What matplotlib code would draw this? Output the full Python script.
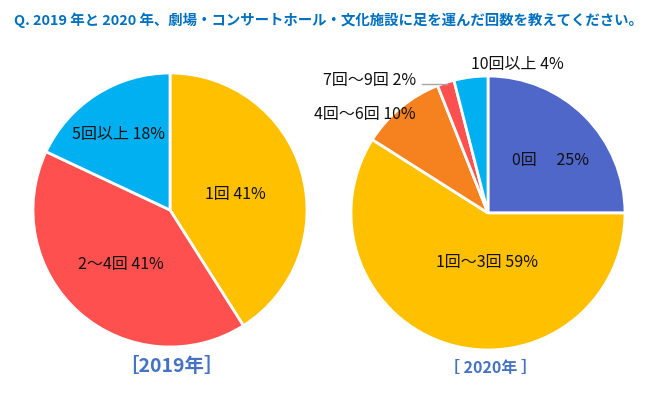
import matplotlib
matplotlib.use("Agg")
import matplotlib.pyplot as plt

plt.rcParams['font.family'] = ['Noto Sans CJK JP', 'DejaVu Sans']

# ── Data ──────────────────────────────────────────────────────────────────────
TITLE = "Q. 2019 年と 2020 年、劇場・コンサートホール・文化施設に足を運んだ回数を教えてください。"

labels_2019 = ["1回", "2～4回", "5回以上"]
values_2019 = [41, 41, 18]
colors_2019 = ["#FFC000", "#FF5050", "#00B0F0"]

labels_2020 = ["0回\u3000", "1回～3回", "4回～6回", "7回～9回", "10回以上"]
values_2020 = [25, 59, 10, 2, 4]
colors_2020 = ["#4E67C8", "#FFC000", "#F5821F", "#FF5050", "#00B0F0"]

# label positions (pixels in the reference, relative to each pie centre, y up)
pos_2019 = [(65, 16), (-49, -55), (-52, 76)]
pos_2020 = [(62, 53), (-1, -50), (-123, 98), (-118, 132), (29, 149)]

W, H = 663, 393
R = 137

fig = plt.figure(figsize=(W / 100, H / 100), dpi=100)
fig.text(14 / W, 1 - 20 / H, TITLE, color="#0070C0", fontsize=10.4,
         fontweight="bold", va="center", ha="left")


def pie(cx, cy, values, colors, labels, pos):
    ax = fig.add_axes([(cx - R) / W, 1 - (cy + R) / H, 2 * R / W, 2 * R / H])
    ax.pie(values, colors=colors, startangle=90, counterclock=False,
           radius=1, wedgeprops=dict(edgecolor="white", linewidth=2))
    ax.set_xlim(-1, 1)
    ax.set_ylim(-1, 1)
    ax.set_aspect("equal")
    ax.axis("off")
    for lab, v, (dx, dy) in zip(labels, values, pos):
        ax.text(dx / R, dy / R, f"{lab} {v}%", fontsize=11.5, color="#111111",
                ha="center", va="center", clip_on=False)
    return ax


ax1 = pie(170, 210, values_2019, colors_2019, labels_2019, pos_2019)
ax2 = pie(488, 213, values_2020, colors_2020, labels_2020, pos_2020)

# leader line for the small 7～9 slice
ax2.plot([(422 - 488) / R, (447 - 488) / R], [(213 - 84) / R, (213 - 84) / R],
         color="#A6A6A6", lw=1, clip_on=False)

fig.text(171 / W, 1 - 367 / H, "［2019年］", color="#4472C4", fontsize=14,
         fontweight="bold", ha="center", va="center")
fig.text(490 / W, 1 - 368 / H, "［ 2020年 ］", color="#4472C4", fontsize=11.5,
         fontweight="bold", ha="center", va="center")

fig.savefig("out.png", dpi=100)
